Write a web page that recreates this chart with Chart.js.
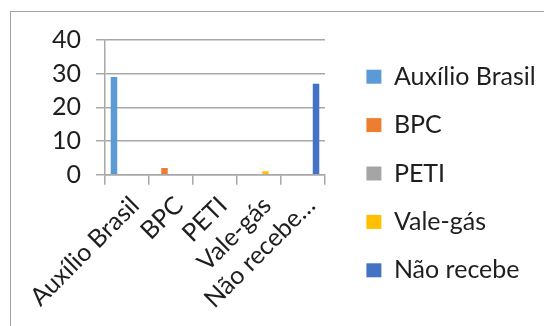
<!DOCTYPE html>
<html>
<head>
<meta charset="utf-8">
<script src="https://cdn.jsdelivr.net/npm/chart.js@4.4.1/dist/chart.umd.min.js"></script>
<style>
  html, body { margin: 0; padding: 0; background: #ffffff; overflow: hidden; }
  #wrap { position: relative; width: 544px; height: 326px; }
  #frame { position: absolute; left: 10px; top: 11px; width: 700px; height: 500px;
           border: 1.5px solid #a2a2a2; box-sizing: border-box; }
  canvas { position: absolute; left: 0; top: 0; }
</style>
</head>
<body>
<div id="wrap">
  <div id="frame"></div>
  <canvas id="c" width="544" height="326"></canvas>
</div>
<script>
// ---- data ----
const categories = ['Auxílio Brasil', 'BPC', 'PETI', 'Vale-gás', 'Não recebe'];
const tickLabels = ['Auxílio Brasil', 'BPC', 'PETI', 'Vale-gás', 'Não recebe…'];
const values = [29, 2, 0, 1, 27];
const colors = ['#5B9BD5', '#ED7D31', '#A5A5A5', '#FFC000', '#4472C4'];
const yTicks = [0, 10, 20, 30, 40];

const FONT = 'Lato';
const FS = 25;
const TEXT = '#1e1e1e';
const GRID = '#a8a8a8';

const datasets = categories.map((name, i) => ({
  label: name,
  data: categories.map((_, j) => (j === i ? values[i] : null)),
  backgroundColor: colors[i],
  borderWidth: 0,
  categoryPercentage: 0.74,
  barPercentage: 1.0
}));

new Chart(document.getElementById('c'), {
  type: 'bar',
  data: { labels: tickLabels, datasets },
  options: {
    responsive: false,
    devicePixelRatio: 1,
    animation: false,
    events: [],
    layout: { padding: { left: 37, top: 27, right: 0, bottom: 6 } },
    plugins: {
      tooltip: { enabled: false },
      title: { display: false },
      legend: {
        position: 'right',
        align: 'center',
        maxWidth: 201,
        labels: {
          font: { family: FONT, size: FS },
          color: TEXT,
          boxWidth: 15,
          boxHeight: 14,
          padding: 23.4
        }
      }
    },
    scales: {
      x: {
        offset: true,
        afterFit: (s) => { s.paddingLeft = 0; s.paddingRight = 0; },
        grid: { display: true, drawOnChartArea: false, drawTicks: true, tickLength: 10, color: GRID, lineWidth: 1.5, offset: true },
        border: { display: true, color: GRID, width: 1.5 },
        ticks: {
          font: { family: FONT, size: FS },
          color: TEXT,
          minRotation: 45,
          maxRotation: 45,
          autoSkip: false,
          padding: 6,
          labelOffset: 8
        }
      },
      xTop: {
        type: 'linear',
        axis: 'x',
        position: 'top',
        display: true,
        grid: { display: false, drawTicks: false },
        border: { display: false },
        ticks: { display: false },
        afterFit: (s) => { s.height = 13; }
      },
      y: {
        min: yTicks[0],
        max: yTicks[yTicks.length - 1],
        afterBuildTicks: (s) => { s.ticks = yTicks.map(v => ({ value: v })); },
        grid: { color: GRID, lineWidth: 1.5, drawTicks: true, tickLength: 9 },
        border: { display: true, color: GRID, width: 1.5 },
        ticks: {
          font: { family: FONT, size: FS },
          color: TEXT,
          padding: 15
        }
      },
      y2: {
        position: 'right',
        display: true,
        grid: { display: false, drawTicks: false },
        border: { display: false },
        ticks: { display: false },
        afterFit: (s) => { s.width = 18; }
      }
    }
  }
});
</script>
</body>
</html>
